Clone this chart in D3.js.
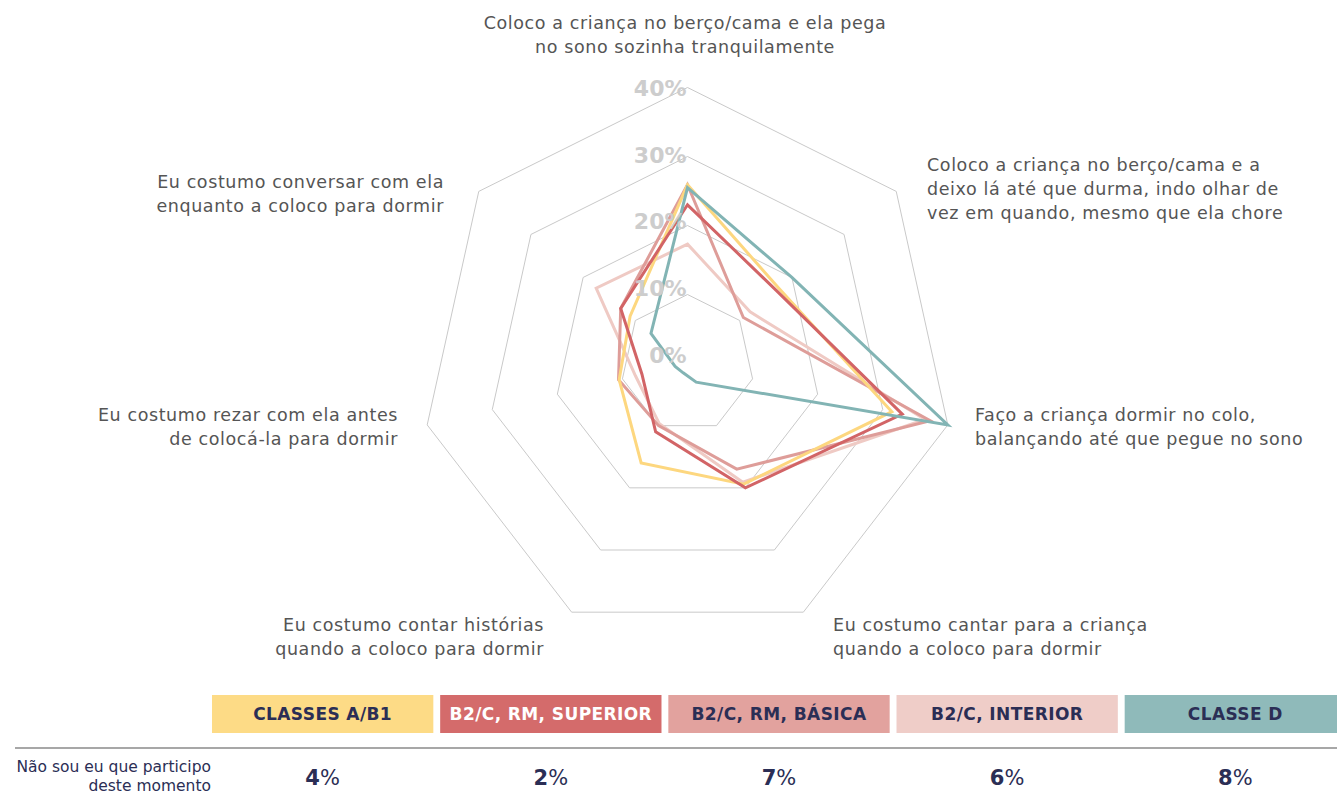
<!DOCTYPE html>
<html>
<head>
<meta charset="utf-8">
<script src="https://cdn.jsdelivr.net/npm/d3@7"></script>
<style>
  body { margin: 0; background: #fff; }
  svg { display: block; }
</style>
</head>
<body>
<div id="chart"></div>
<script>
// axes, clockwise from the top
const axisLabels = [
  ["Coloco a criança no berço/cama e ela pega", "no sono sozinha tranquilamente"],
  ["Coloco a criança no berço/cama e a", "deixo lá até que durma, indo olhar de", "vez em quando, mesmo que ela chore"],
  ["Faço a criança dormir no colo,", "balançando até que pegue no sono"],
  ["Eu costumo cantar para a criança", "quando a coloco para dormir"],
  ["Eu costumo contar histórias", "quando a coloco para dormir"],
  ["Eu costumo rezar com ela antes", "de colocá-la para dormir"],
  ["Eu costumo conversar com ela", "enquanto a coloco para dormir"]
];

const seriesNames = ["CLASSES A/B1", "B2/C, RM, SUPERIOR", "B2/C, RM, BÁSICA", "B2/C, INTERIOR", "CLASSE D"];
const classesAB1 = [25.9, 17.5, 31.4, 19.4, 16, 10.5, 11];
const superior   = [23, 17, 33, 20, 11, 7, 12.8];
const basica     = [25.9, 10.7, 37.3, 17, 10, 10.6, 12.8];
const interior   = [17.3, 12, 36.5, 19.1, 9.7, 8, 17.5];
const classeD    = [25.5, 20, 40, 3, 1.5, 1.9, 7];
const naoParticipo = [4, 2, 7, 6, 8];

const ticks = [0, 10, 20, 30, 40];
const rowLabel = ["Não sou eu que participo", "deste momento"];

const lineColors = ["#fdd77f", "#d26466", "#de9d99", "#efcac4", "#82b4b4"];
const boxColors  = ["#fddb86", "#d46b6b", "#e2a29e", "#efcdc8", "#8fbaba"];
const boxText    = ["#2b2e55", "#ffffff", "#2b2e55", "#2b2e55", "#2b2e55"];
const navy = "#2b2e55";

const W = 1337, H = 796;
const cx = 687.5, cy = 363.5;

const svg = d3.select("#chart").append("svg")
  .attr("width", W).attr("height", H)
  .style("font-family", "'DejaVu Sans', sans-serif");

// the original is a bit taller than wide
const rx = d3.scaleLinear().domain([0, 40]).range([0, 267]);
const ry = d3.scaleLinear().domain([0, 40]).range([0, 276]);
const angle = d3.scaleLinear().domain([0, 7]).range([0, 2 * Math.PI]);
const labelY = d3.scaleLinear().domain([0, 40]).range([355, 88]);

const pt = (v, i) => [cx + rx(v) * Math.sin(angle(i)), cy - ry(v) * Math.cos(angle(i))];
const idx = d3.range(7);

// grid rings
svg.append("g").selectAll("path")
  .data(ticks.filter(t => t > 0))
  .join("path")
  .attr("d", t => d3.line()(idx.map(i => pt(t, i))) + "Z")
  .attr("fill", "none")
  .attr("stroke", "#c9c9c9")
  .attr("stroke-width", 1);

// series
const allSeries = [classesAB1, superior, basica, interior, classeD];
const drawOrder = [3, 2, 0, 1, 4];
const radar = d3.line().curve(d3.curveLinearClosed);

svg.append("g").selectAll("path")
  .data(drawOrder)
  .join("path")
  .attr("d", s => radar(allSeries[s].map((v, i) => pt(v, i))))
  .attr("fill", "none")
  .attr("stroke", s => lineColors[s])
  .attr("stroke-width", 3)
  .attr("stroke-linejoin", "miter");

// tick labels
svg.append("g").selectAll("text")
  .data(ticks)
  .join("text")
  .attr("x", cx - 1)
  .attr("y", t => labelY(t))
  .attr("dy", "0.36em")
  .attr("text-anchor", "end")
  .attr("fill", "#cdcdcd")
  .attr("font-size", 22)
  .attr("font-weight", "bold")
  .text(t => t + "%");

// axis labels
const labelPos = [
  {x: 685, y: 23, anchor: "middle"},
  {x: 927, y: 165, anchor: "start"},
  {x: 975, y: 415, anchor: "start"},
  {x: 833, y: 625, anchor: "start"},
  {x: 544, y: 625, anchor: "end"},
  {x: 398, y: 415, anchor: "end"},
  {x: 444, y: 182, anchor: "end"}
];
axisLabels.forEach((lines, i) => {
  const p = labelPos[i];
  const t = svg.append("text")
    .attr("x", p.x).attr("y", p.y)
    .attr("text-anchor", p.anchor)
    .attr("fill", "#555")
    .attr("font-size", 17.5)
    .attr("letter-spacing", 0.6);
  lines.forEach((s, j) => {
    t.append("tspan").attr("x", p.x).attr("y", p.y + j * 24).attr("dy", "0.35em").text(s);
  });
});

// legend table
const col = d3.scaleBand().domain(d3.range(5)).range([212, 1346]).paddingInner(0.03);

svg.append("g").selectAll("rect")
  .data(seriesNames)
  .join("rect")
  .attr("x", (d, i) => col(i))
  .attr("y", 695)
  .attr("width", col.bandwidth())
  .attr("height", 38)
  .attr("fill", (d, i) => boxColors[i]);

svg.append("g").selectAll("text")
  .data(seriesNames)
  .join("text")
  .attr("x", (d, i) => col(i) + col.bandwidth() / 2)
  .attr("y", 714)
  .attr("dy", "0.36em")
  .attr("text-anchor", "middle")
  .attr("fill", (d, i) => boxText[i])
  .attr("font-size", 17)
  .attr("letter-spacing", 0.4)
  .attr("font-weight", "bold")
  .text(d => d);

svg.append("line")
  .attr("x1", 15).attr("x2", W)
  .attr("y1", 748).attr("y2", 748)
  .attr("stroke", "#8a8a8a")
  .attr("stroke-width", 1.5);

const rl = svg.append("text")
  .attr("text-anchor", "end")
  .attr("fill", navy)
  .attr("font-size", 15.5);
rowLabel.forEach((s, j) => {
  rl.append("tspan").attr("x", 211).attr("y", 767 + j * 19).attr("dy", "0.35em").text(s);
});

const vals = svg.append("g").selectAll("text")
  .data(naoParticipo)
  .join("text")
  .attr("x", (d, i) => col(i) + col.bandwidth() / 2)
  .attr("y", 777)
  .attr("dy", "0.36em")
  .attr("text-anchor", "middle")
  .attr("fill", navy)
  .attr("font-size", 21);
vals.append("tspan").attr("font-weight", "bold").text(d => d);
vals.append("tspan").text("%");
</script>
</body>
</html>
